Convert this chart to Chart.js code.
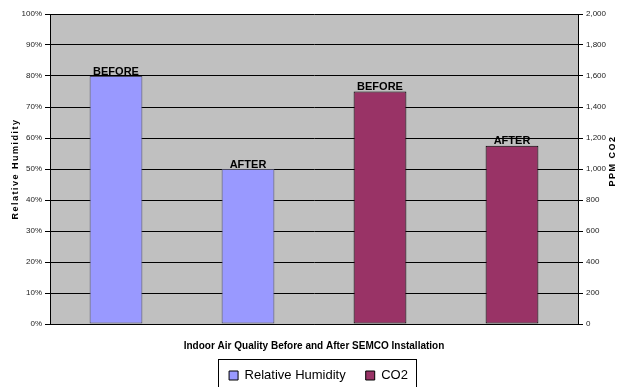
<!DOCTYPE html>
<html>
<head>
<meta charset="utf-8">
<script src="https://cdn.jsdelivr.net/npm/chart.js@4"></script>
<style>
  html, body { margin: 0; padding: 0; background: #fff; overflow: hidden; }
  #wrap { width: 619px; height: 392px; position: relative; }
</style>
</head>
<body>
<div id="wrap"><canvas id="chart"></canvas></div>
<script>
// Données
const categories = ['RH before', 'RH after', 'CO2 before', 'CO2 after'];
const barLabels = ['BEFORE', 'AFTER', 'BEFORE', 'AFTER'];
const humidity = [80, 50, null, null];   // % (axe gauche)
const co2 = [null, null, 1500, 1150];    // ppm (axe droit)

const FONT = "'Liberation Sans', Arial, sans-serif";

// Fond gris, titres des axes Y (lus de bas en haut), étiquettes BEFORE/AFTER, cadre de légende
const decorPlugin = {
  id: 'decor',
  afterLayout(chart) {
    // décaler un peu la légende vers la droite comme dans l'original
    chart.legend.left += 9;
    chart.legend.right += 9;
  },
  beforeDraw(chart) {
    const { ctx, chartArea: a } = chart;
    ctx.save();
    ctx.fillStyle = '#c0c0c0';
    ctx.fillRect(a.left, a.top, a.right - a.left, a.bottom - a.top);
    ctx.restore();
  },
  afterDraw(chart) {
    const { ctx, chartArea: a } = chart;
    ctx.save();
    ctx.fillStyle = '#000';
    ctx.font = 'bold 9px ' + FONT;
    ctx.textAlign = 'center';
    ctx.textBaseline = 'middle';
    [[16, 169, 'Relative Humidity'], [613, 161, 'PPM CO2']].forEach(([x, y, txt]) => {
      ctx.save();
      ctx.translate(x, y);
      ctx.rotate(-Math.PI / 2);
      ctx.letterSpacing = '1.5px';
      ctx.fillText(txt, 0, 0);
      ctx.restore();
    });

    // BEFORE / AFTER
    ctx.font = 'bold 11px ' + FONT;
    ctx.textBaseline = 'bottom';
    chart.data.datasets.forEach((ds, di) => {
      chart.getDatasetMeta(di).data.forEach((bar, i) => {
        if (ds.data[i] == null) return;
        ctx.fillText(barLabels[i], bar.x, bar.y + 1);
      });
    });

    // cadre de la légende
    const lg = chart.legend;
    if (lg && lg.legendHitBoxes.length) {
      const boxes = lg.legendHitBoxes;
      const last = boxes[boxes.length - 1];
      const left = boxes[0].left - 11;
      const right = last.left + last.width + 8;
      const top = boxes[0].top - 10;
      ctx.strokeStyle = '#000';
      ctx.lineWidth = 1;
      ctx.strokeRect(Math.round(left) + 0.5, Math.round(top) + 0.5, Math.round(right - left), 60);
    }
    ctx.restore();
  }
};

new Chart(document.getElementById('chart'), {
  type: 'bar',
  data: {
    labels: categories,
    datasets: [
      {
        label: 'Relative Humidity',
        data: humidity,
        yAxisID: 'y',
        backgroundColor: '#9999ff',
        borderColor: '#4d4d66',
        borderWidth: 1,
        borderSkipped: false
      },
      {
        label: 'CO2',
        data: co2,
        yAxisID: 'y1',
        backgroundColor: '#993366',
        borderColor: '#000',
        borderWidth: 1,
        borderSkipped: false
      }
    ]
  },
  options: {
    responsive: true,
    maintainAspectRatio: false,
    animation: false,
    layout: { padding: { top: 14, left: 0, right: 0, bottom: 0 } },
    datasets: { bar: { grouped: false, barPercentage: 0.4, categoryPercentage: 1 } },
    plugins: {
      tooltip: { enabled: false },
      legend: {
        position: 'bottom',
        labels: {
          font: { family: FONT, size: 13 },
          color: '#000',
          boxWidth: 9,
          boxHeight: 9,
          padding: 20,
          generateLabels(chart) {
            return chart.data.datasets.map((ds, i) => ({
              text: ds.label,
              fillStyle: ds.backgroundColor,
              strokeStyle: '#000',
              lineWidth: 1,
              datasetIndex: i,
              fontColor: '#000'
            }));
          }
        }
      }
    },
    scales: {
      x: {
        grid: { display: false, drawTicks: false },
        border: { color: '#000' },
        ticks: { display: false },
        title: {
          display: true,
          text: 'Indoor Air Quality Before and After SEMCO Installation',
          font: { family: FONT, size: 10, weight: 'bold' },
          color: '#000',
          padding: { top: 16, bottom: -3 }
        }
      },
      y: {
        position: 'left',
        min: 0,
        max: 100,
        ticks: {
          stepSize: 10,
          padding: 3,
          color: '#222',
          font: { family: FONT, size: 8 },
          callback: v => v + '%'
        },
        grid: { color: '#000', tickLength: 5, tickColor: '#000' },
        border: { color: '#000' },
        afterFit(scale) { scale.width = 50; }
      },
      y1: {
        position: 'right',
        min: 0,
        max: 2000,
        ticks: {
          stepSize: 200,
          padding: 3,
          color: '#222',
          font: { family: FONT, size: 8 },
          callback: v => v.toLocaleString('en-US')
        },
        grid: { drawOnChartArea: false, tickLength: 5, tickColor: '#000' },
        border: { color: '#000' },
        afterFit(scale) { scale.width = 41; }
      }
    }
  },
  plugins: [decorPlugin]
});
</script>
</body>
</html>
